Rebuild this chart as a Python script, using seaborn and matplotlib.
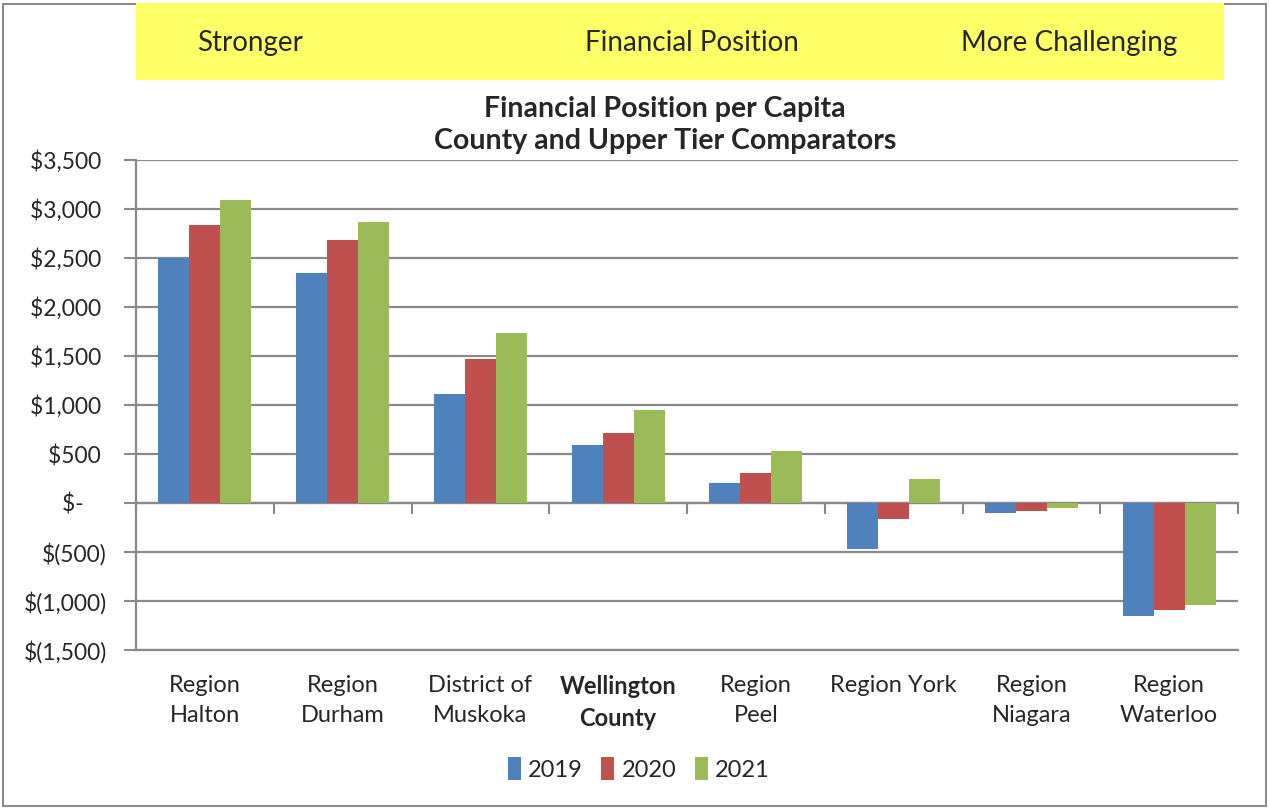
import numpy as np
import pandas as pd
import matplotlib.pyplot as plt
import matplotlib.patches as mpatches
import seaborn as sns

#%%
regions = ['Region\nHalton', 'Region\nDurham', 'District of\nMuskoka', 'Wellington\nCounty',
           'Region\nPeel', 'Region York', 'Region\nNiagara', 'Region\nWaterloo']
years = ['2019', '2020', '2021']
val_2019 = [2505, 2345, 1108, 590, 207, -470, -105, -1150]
val_2020 = [2835, 2688, 1473, 715, 310, -160, -78, -1090]
val_2021 = [3088, 2870, 1732, 952, 535, 240, -48, -1040]
colors = ['#4F81BD', '#C0504D', '#9BBB59']
y_ticks = [3500, 3000, 2500, 2000, 1500, 1000, 500, 0, -500, -1000, -1500]

df = pd.DataFrame({'region': regions * 3,
                   'year': np.repeat(years, len(regions)),
                   'value': val_2019 + val_2020 + val_2021})

#%%
sns.set_style('white')
plt.rcParams['font.family'] = ['Lato', 'DejaVu Sans']
grid_c = '#898989'

fig = plt.figure(figsize=(12.7, 8.1), dpi=100)
ax = fig.add_axes([136/1270, 1 - 650/810, (1238-136)/1270, 490/810])

sns.barplot(data=df, x='region', y='value', hue='year', palette=colors,
            width=0.675, linewidth=0, saturation=1, ax=ax)

ymin, ymax = -1500, 3500
ax.set_ylim(ymin, ymax)
ax.set_xlim(-0.5, len(regions) - 0.5)
ax.set_xlabel('')
ax.set_ylabel('')


def money(v):
    if v > 0:
        return f'${v:,.0f} '
    if v == 0:
        return '$-    '
    return f'$({-v:,.0f})'


ax.set_yticks(y_ticks)
ax.set_yticklabels([money(v) for v in y_ticks], fontsize=16.5)
ax.tick_params(axis='y', direction='out', length=9, width=1.5, color=grid_c, pad=12, left=True)
ax.yaxis.grid(True, color=grid_c, linewidth=1.6)
ax.set_axisbelow(True)

ax.set_xticks(range(len(regions)))
ax.set_xticklabels(regions, fontsize=17, va='top', linespacing=1.5)
ax.tick_params(axis='x', length=0, pad=18)
ax.get_xticklabels()[3].set_fontweight('bold')

for s in ['top', 'right']:
    ax.spines[s].set_visible(False)
for s in ['left', 'bottom']:
    ax.spines[s].set_color(grid_c)
    ax.spines[s].set_linewidth(1.6)

# zero line with category separators
zero_loc = (0 - ymin) / (ymax - ymin)
sec = ax.secondary_xaxis(zero_loc)
sec.set_xticks(np.arange(-0.5, len(regions), 1))
sec.set_xticklabels([])
sec.tick_params(direction='out', length=8, width=1.5, color=grid_c)
sec.spines['bottom'].set_color(grid_c)
sec.spines['bottom'].set_linewidth(1.6)

handles, labels = ax.get_legend_handles_labels()
ax.legend_.remove()
fig.legend(handles, labels, loc='center', bbox_to_anchor=(0.503, 1 - 769/810), ncol=3,
           frameon=False, fontsize=17, handlelength=0.55, handleheight=1.1,
           handletextpad=0.3, columnspacing=0.8)

# header banner and title
fig.patches.append(mpatches.Rectangle((0.002, 0.005), 0.995, 0.99, transform=fig.transFigure,
                                      fill=False, edgecolor='#8c8c8c', linewidth=1.5))
fig.patches.append(mpatches.Rectangle((136/1270, 1 - 80/810), (1224-136)/1270, 77/810,
                                      transform=fig.transFigure, facecolor='#FFFF66',
                                      edgecolor='none'))
for txt, xc in [('Stronger', 250), ('Financial Position', 692), ('More Challenging', 1069)]:
    fig.text(xc/1270, 1 - 43/810, txt, ha='center', va='center', fontsize=20)

fig.text(665/1270, 1 - 125/810, 'Financial Position per Capita\nCounty and Upper Tier Comparators',
         ha='center', va='center', fontsize=20.5, fontweight='bold', linespacing=1.3)

fig.savefig('out.png', dpi=100)
